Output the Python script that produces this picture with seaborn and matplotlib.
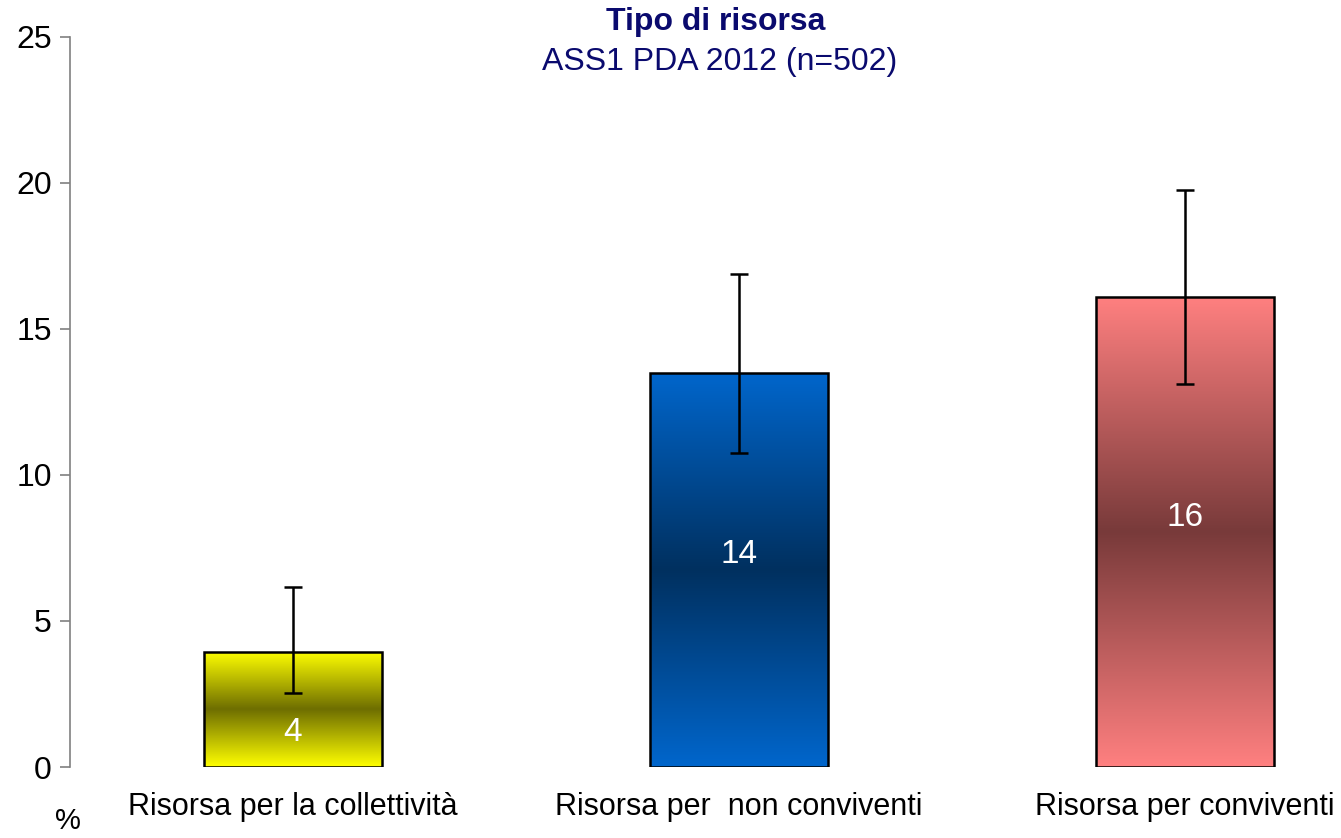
import numpy as np
import pandas as pd
import matplotlib
matplotlib.use("Agg")
import matplotlib.pyplot as plt
from matplotlib.colors import LinearSegmentedColormap
import seaborn as sns

# dati
categorie = ["Risorsa per la collettività", "Risorsa per  non conviventi", "Risorsa per conviventi"]
valori = [3.95, 13.5, 16.1]
etichette = ["4", "14", "16"]
err_basso = [2.55, 10.75, 13.1]
err_alto = [6.15, 16.9, 19.75]

# colori dei gradienti (bordo, centro, bordo)
gradienti = [
    ["#FFFF00", "#6E6E00", "#FFFF00"],
    ["#0066CC", "#00305F", "#0066CC"],
    ["#FF8080", "#783A3A", "#FF8080"],
]

sns.set_style("white")
plt.rcParams['font.family'] = ['Liberation Sans', 'DejaVu Sans']
plt.rcParams['text.color'] = 'black'

fig = plt.figure(figsize=(13.41, 8.38), dpi=100)
ax = fig.add_axes([70 / 1341, 1 - 767 / 838, 1338 / 1341, 730 / 838])

df = pd.DataFrame({"categoria": categorie, "valore": valori})
sns.barplot(data=df, x="categoria", y="valore", width=0.4, color="white",
            edgecolor="black", linewidth=1.8, ax=ax, zorder=3)

# riempimento a gradiente dentro ogni barra
grad = np.linspace(0, 1, 256).reshape(-1, 1)
for patch, cols in zip(ax.patches, gradienti):
    x0, y0 = patch.get_x(), patch.get_y()
    w, h = patch.get_width(), patch.get_height()
    cmap = LinearSegmentedColormap.from_list("g", cols)
    im = ax.imshow(grad, cmap=cmap, aspect="auto", extent=[x0, x0 + w, y0, y0 + h],
                   origin="lower", zorder=3.5, interpolation="bilinear")
    im.set_clip_path(patch)
    patch.set_zorder(4)
    patch.set_facecolor("none")

# barre di errore
pos = np.arange(len(valori))
v = np.array(valori)
yerr = np.vstack([v - np.array(err_basso), np.array(err_alto) - v])
ax.errorbar(pos, v, yerr=yerr, fmt="none", ecolor="black", elinewidth=1.8,
            capsize=6.5, capthick=1.8, zorder=5)

# etichette dei valori
frazioni = [0.3, 0.54, 0.53]
for i, (val, lab) in enumerate(zip(valori, etichette)):
    ax.text(i, val * frazioni[i], lab, ha="center", va="center", color="white",
            fontsize=24, zorder=6)

ax.set_xlim(-0.5, 2.5)
ax.set_ylim(0, 25)
ax.set_yticks([0, 5, 10, 15, 20, 25])
ax.set_xlabel("")
ax.set_ylabel("")
for s in ["top", "right", "bottom"]:
    ax.spines[s].set_visible(False)
ax.spines["left"].set_color("#808080")
ax.spines["left"].set_linewidth(1.2)
ax.tick_params(axis="y", direction="out", length=7, width=1.2, color="#808080",
               labelsize=23, labelcolor="black", pad=6, left=True)
ax.tick_params(axis="x", length=0, labelsize=22, labelcolor="black", pad=18)
ax.patch.set_alpha(0)

fig.text(0.534, 0.974, "Tipo di risorsa", ha="center", va="center", fontsize=23,
         fontweight="bold", color="#0A0A6E")
fig.text(0.537, 0.926, "ASS1 PDA 2012 (n=502)", ha="center", va="center", fontsize=23,
         color="#0A0A6E")
fig.text(68 / 1341, 1 - 821 / 838, "%", ha="center", va="center", fontsize=21)

fig.savefig("out.png", dpi=100)
